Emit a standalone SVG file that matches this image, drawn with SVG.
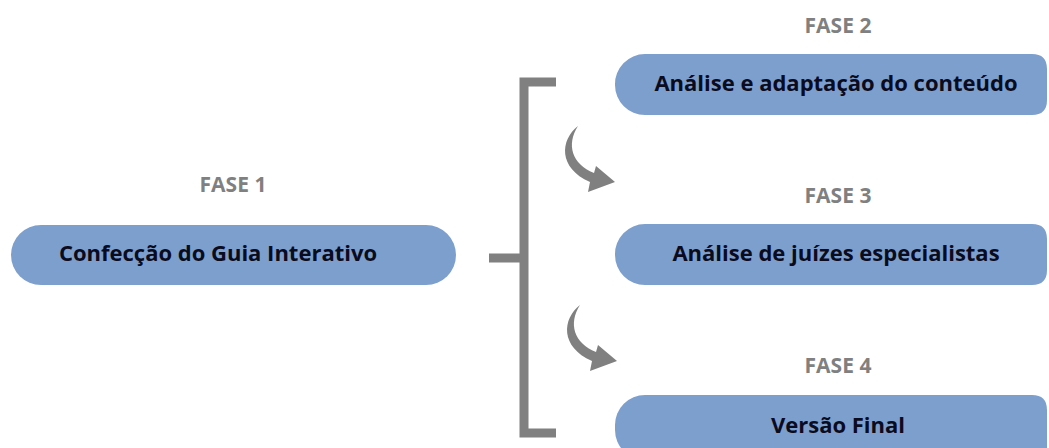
<svg xmlns="http://www.w3.org/2000/svg" width="1049" height="448" viewBox="0 0 1049 448">
<style>
.box{fill:#7d9fcd;}
.lbl{font-family:"Open Sans","DejaVu Sans",sans-serif;font-weight:bold;font-size:22px;fill:#0b0b1e;text-anchor:middle;}
.fase{font-family:"Open Sans","DejaVu Sans",sans-serif;font-weight:bold;font-size:21px;fill:#808080;text-anchor:middle;}
.br{stroke:#808080;stroke-width:9;fill:none;}
.arr{fill:#808080;}
</style>
<defs>
<path id="carrow" d="M578,126 C560,140 558,168 590,182 L588,192 L615,182 L596,166 L594,173 C572,164 566,145 578,126 Z"/>
</defs>
<rect width="1049" height="448" fill="#ffffff"/>
<g id="connectors">
<path class="br" d="M556,82 H524 V433 H556"/>
<path class="br" d="M489,258 H524"/>
<use href="#carrow" class="arr"/>
<use href="#carrow" class="arr" transform="translate(2,179)"/>
</g>
<g id="fase1">
<text class="fase" x="233" y="192">FASE 1</text>
<rect class="box" x="11" y="225" width="445" height="60" rx="30"/>
<text class="lbl" x="218" y="261">Confecção do Guia Interativo</text>
</g>
<g id="fase2">
<text class="fase" x="838" y="33">FASE 2</text>
<path class="box" d="M645,54 H1032 Q1047,54 1047,69 V100 Q1047,115 1032,115 H645 A30,30 0 0 1 615,85 A30,30 0 0 1 645,54 Z"/>
<text class="lbl" x="836" y="91">Análise e adaptação do conteúdo</text>
</g>
<g id="fase3">
<text class="fase" x="838" y="203">FASE 3</text>
<path class="box" d="M645,224 H1032 Q1047,224 1047,239 V270 Q1047,285 1032,285 H645 A30,30 0 0 1 615,255 A30,30 0 0 1 645,224 Z"/>
<text class="lbl" x="836" y="261">Análise de juízes especialistas</text>
</g>
<g id="fase4">
<text class="fase" x="838" y="373">FASE 4</text>
<path class="box" d="M645,395 H1032 Q1047,395 1047,410 V460 H645 A30,30 0 0 1 615,430 V425 A30,30 0 0 1 645,395 Z"/>
<text class="lbl" x="838" y="433">Versão Final</text>
</g>
</svg>
